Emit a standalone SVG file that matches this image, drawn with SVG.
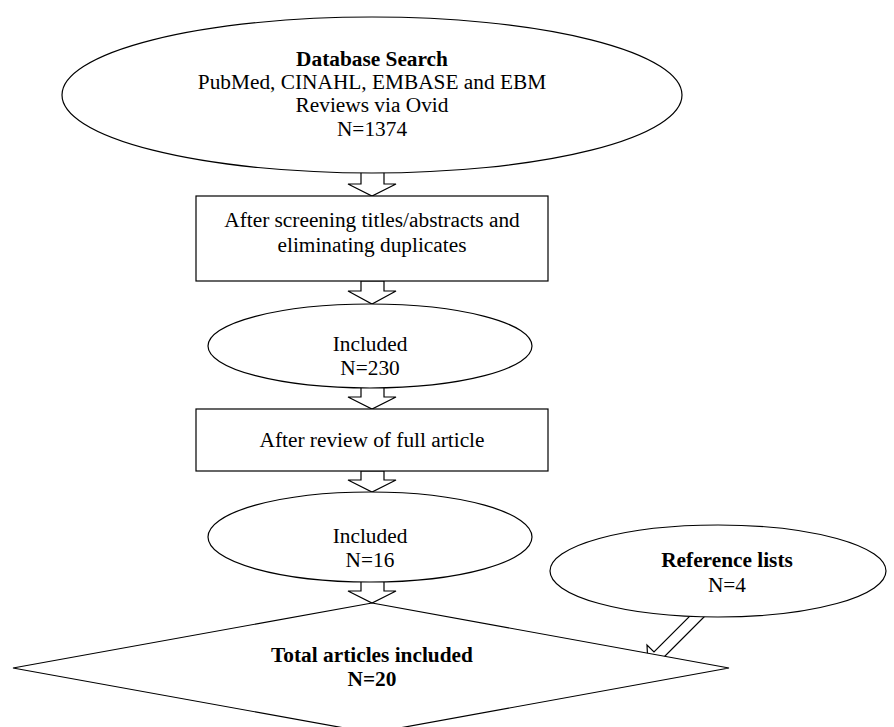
<svg xmlns="http://www.w3.org/2000/svg" width="894" height="727" viewBox="0 0 894 727">
<style>
.s{fill:#fff;stroke:#000;stroke-width:1.2}
.t{font-family:"Liberation Serif","Times New Roman",serif;font-size:21.33px;fill:#000;text-anchor:middle}
.b{font-weight:bold}
</style>
<rect width="894" height="727" fill="#fff"/>
<g id="connectors">
<polygon class="s" points="361,172 384,172 384,184 396,184 372,196 348,184 361,184"/>
<polygon class="s" points="361,281 384,281 384,291 396,291 372,304 348,291 361,291"/>
<polygon class="s" points="361,387 384,387 384,397 396,397 372,409 348,397 361,397"/>
<polygon class="s" points="361,471 384,471 384,480 396,480 372,492 348,480 361,480"/>
<polygon class="s" points="361,581 384,581 384,591 396,591 372,603 348,591 361,591"/>
<polygon class="s" points="700,595 713,608 662,659 669,666 648,665 647,645 654,652 704,602"/>
</g>
<g id="database">
<ellipse class="s" cx="372" cy="95" rx="310" ry="78"/>
<text class="t b" x="372" y="66">Database Search</text>
<text class="t" x="372" y="89">PubMed, CINAHL, EMBASE and EBM</text>
<text class="t" x="372" y="112">Reviews via Ovid</text>
<text class="t" x="372" y="136">N=1374</text>
</g>
<g id="screening">
<rect class="s" x="196" y="196" width="352" height="85"/>
<text class="t" x="372" y="227">After screening titles/abstracts and</text>
<text class="t" x="372" y="252">eliminating duplicates</text>
</g>
<g id="included230">
<ellipse class="s" cx="370" cy="346" rx="162" ry="42"/>
<text class="t" x="370" y="351">Included</text>
<text class="t" x="370" y="375">N=230</text>
</g>
<g id="fullreview">
<rect class="s" x="196" y="409" width="352" height="62"/>
<text class="t" x="372" y="447">After review of full article</text>
</g>
<g id="included16">
<ellipse class="s" cx="370" cy="537" rx="162" ry="45"/>
<text class="t" x="370" y="543">Included</text>
<text class="t" x="370" y="567">N=16</text>
</g>
<g id="reference">
<ellipse class="s" cx="718" cy="571" rx="168" ry="46"/>
<text class="t b" x="727" y="567">Reference lists</text>
<text class="t" x="727" y="592">N=4</text>
</g>
<g id="total">
<polygon class="s" points="372,603 729,668 372,733 13,668"/>
<text class="t b" x="372" y="662">Total articles included</text>
<text class="t b" x="372" y="686">N=20</text>
</g>
</svg>
